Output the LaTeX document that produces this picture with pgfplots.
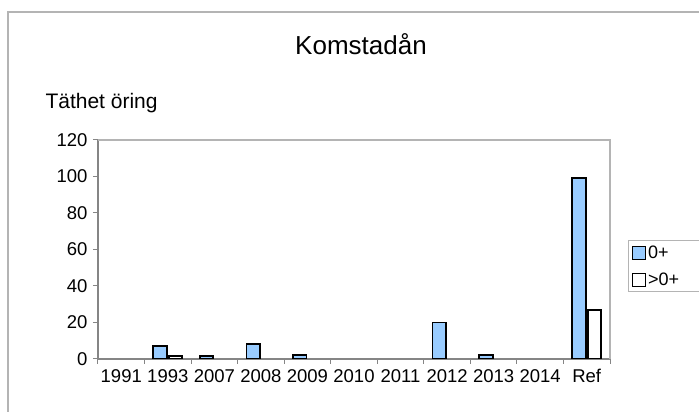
\documentclass[border=0pt]{standalone}
\usepackage{pgfplots}
\pgfplotsset{compat=1.18}
\usepackage{fontspec}
\setmainfont{Liberation Sans}
\definecolor{barblue}{HTML}{99CCFF}
\definecolor{framegray}{HTML}{B4B4B4}
\definecolor{axgray}{HTML}{858585}
\begin{document}
\begin{tikzpicture}[x=1pt,y=1pt]
\useasboundingbox (0,0) rectangle (699,412);
\fill[white] (0,0) rectangle (699,412);
\draw[framegray, line width=1.5pt] (8,-20) -- (8,400) -- (720,400);
\node[font=\fontsize{26}{30}\selectfont] at (361,368) {Komstadån};
\node[anchor=west, font=\fontsize{21}{25}\selectfont] at (42,309) {Täthet öring};
\begin{axis}[
  at={(98pt,53pt)}, anchor=south west,
  scale only axis, width=512pt, height=219pt,
  ybar, bar width=13.5pt,
  ymin=0, ymax=120, ytick={0,20,...,120},
  xmin=-0.5, xmax=10.5,
  xtick={-0.5,0.5,...,10.5},
  x tick label as interval,
  xticklabels={1991,1993,2007,2008,2009,2010,2011,2012,2013,2014,Ref},
  axis x line*=bottom, axis y line*=left,
  tick align=outside, major tick length=5pt,
  tick style={axgray, line width=1pt},
  axis line style={axgray, line width=1.2pt, -},
  /pgf/number format/assume math mode=true,
  tick label style={font=\fontsize{18.5}{21}\selectfont},
  xticklabel style={yshift=-2pt},
  yticklabel style={xshift=-2pt},
  legend style={at={(1.035,0.543)}, anchor=north west, draw=framegray, line width=1pt,
    font=\fontsize{18}{21}\selectfont, row sep=9pt, inner xsep=4pt, inner ysep=3pt,
    nodes={text width=52pt, inner xsep=2pt}},
  legend cell align=left,
  legend image code/.code={\draw[#1, line width=0.8pt] (0pt,-6.5pt) rectangle (13pt,6.5pt);},
  after end axis/.code={\draw[framegray, line width=1.5pt] (rel axis cs:0,1) -| (rel axis cs:1,0);},
]
\addplot[fill=barblue, draw=black, line width=1.8pt] coordinates {(1,7) (2,1.5) (3,8) (4,2.3) (7,20) (8,2.3) (10,99)};
\addplot[fill=white, draw=black, line width=1.8pt] coordinates {(1,1.5) (10,27)};
\legend{0+,>0+}
\end{axis}
\end{tikzpicture}
\end{document}
